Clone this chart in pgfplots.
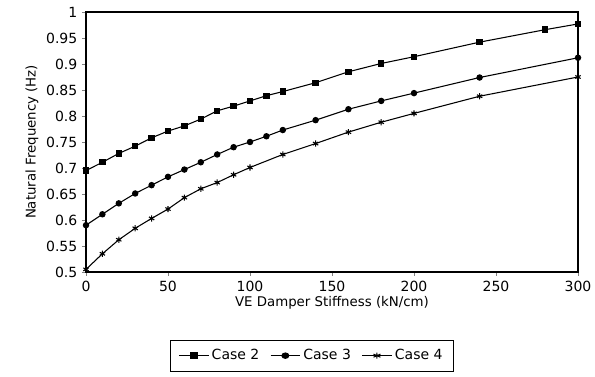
\documentclass[border=0pt]{standalone}
\usepackage{fontspec}
\setmainfont{DejaVu Sans}
\usepackage{pgfplots}
\pgfplotsset{compat=1.18}
\begin{document}
\begin{tikzpicture}[x=1pt,y=1pt]
\path[use as bounding box] (0,0) rectangle (446.25,282.75);
\begin{axis}[
  at={(64.5pt,78.75pt)}, anchor=south west,
  scale only axis, width=369pt, height=195pt,
  xmin=0, xmax=300, ymin=0.5, ymax=1,
  xtick={0,50,...,300}, ytick={0.5,0.55,...,1.0},
  yticklabels={0.5,0.55,0.6,0.65,0.7,0.75,0.8,0.85,0.9,0.95,1},
  tick align=outside, xtick pos=bottom, ytick pos=left,
  major tick length=3pt,
  tick label style={font=\fontsize{10.5}{12}\selectfont},
  label style={font=\fontsize{10}{12}\selectfont},
  /pgf/number format/assume math mode=true,
  xlabel={VE Damper Stiffness (kN/cm)},
  ylabel={Natural Frequency (Hz)},
  xlabel style={yshift=3pt},
  ylabel style={yshift=-1pt},
  axis line style={line width=0.9pt},
  legend columns=3,
  legend style={at={(0.459,-0.26)}, anchor=north, draw=black, line width=0.8pt,
    font=\fontsize{10.5}{12}\selectfont, inner xsep=6pt, inner ysep=5pt,
    /tikz/every even column/.append style={column sep=6pt}},
  legend image post style={xscale=1.3},
]
\addplot[black, line width=0.8pt, mark=square*, mark size=2pt, mark options={fill=black}] coordinates {
(0,0.695)(10,0.711)(20,0.728)(30,0.742)(40,0.758)(50,0.771)(60,0.781)(70,0.794)(80,0.810)(90,0.819)(100,0.829)(110,0.839)(120,0.847)(140,0.864)(160,0.885)(180,0.901)(200,0.914)(240,0.942)(280,0.966)(300,0.977)};
\addlegendentry{Case 2}
\addplot[black, line width=0.8pt, mark=*, mark size=2pt, mark options={fill=black}] coordinates {
(0,0.590)(10,0.611)(20,0.632)(30,0.651)(40,0.667)(50,0.683)(60,0.697)(70,0.711)(80,0.726)(90,0.740)(100,0.750)(110,0.761)(120,0.773)(140,0.792)(160,0.813)(180,0.829)(200,0.844)(240,0.874)(300,0.912)};
\addlegendentry{Case 3}
\addplot[black, line width=0.8pt, mark=asterisk, mark size=2.3pt, mark options={line width=0.8pt}] coordinates {
(0,0.505)(10,0.535)(20,0.562)(30,0.584)(40,0.603)(50,0.621)(60,0.643)(70,0.660)(80,0.672)(90,0.687)(100,0.701)(120,0.726)(140,0.747)(160,0.769)(180,0.788)(200,0.805)(240,0.838)(300,0.875)};
\addlegendentry{Case 4}
\end{axis}
\end{tikzpicture}
\end{document}
